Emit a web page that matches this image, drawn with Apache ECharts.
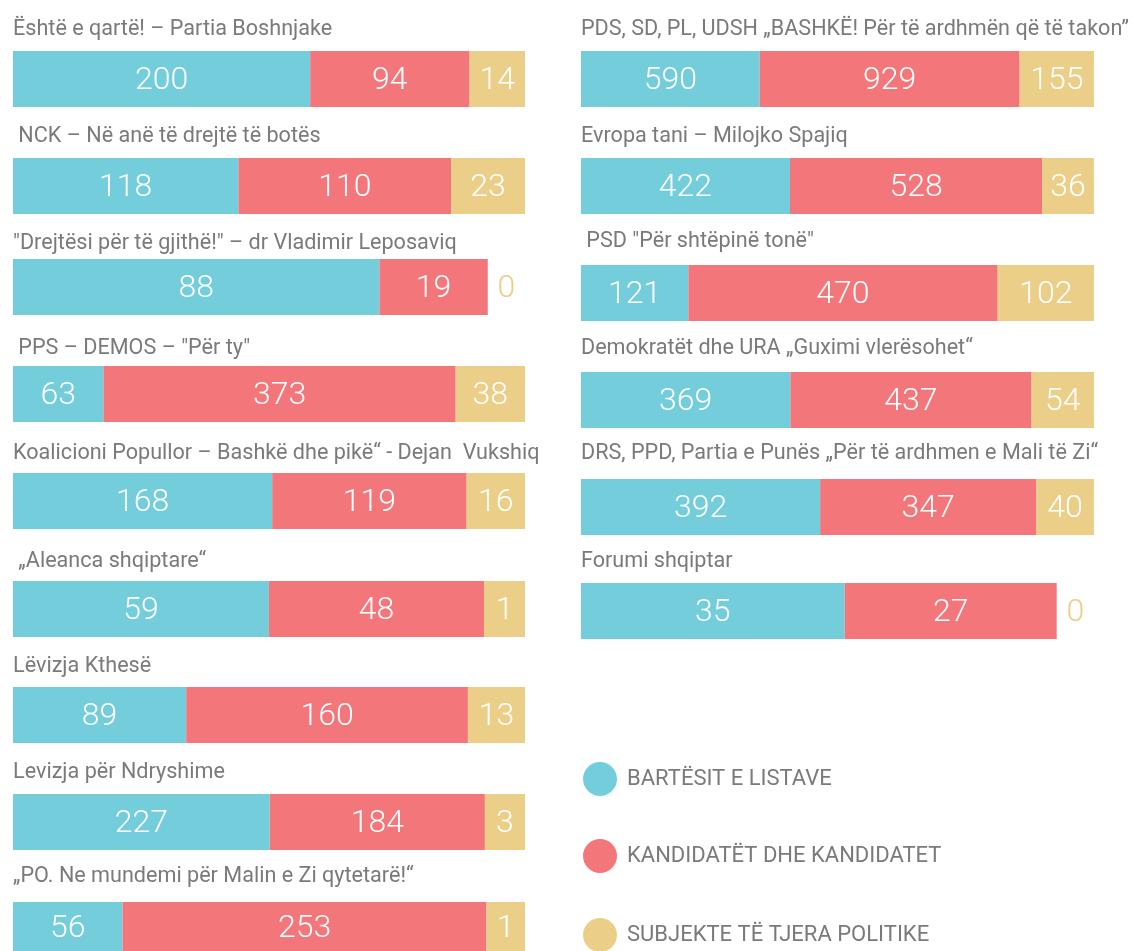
<!DOCTYPE html>
<html>
<head>
<meta charset="utf-8">
<script src="https://cdn.jsdelivr.net/npm/echarts@6/dist/echarts.min.js"></script>
<style>
  html, body { margin: 0; padding: 0; background: #fff; }
  #chart { width: 1134px; height: 951px; }
</style>
</head>
<body>
<div id="chart"></div>
<script>
// left column first (9 rows), then right column (6 rows)
const parties = [
  "Është e qartë! – Partia Boshnjake",
  " NCK – Në anë të drejtë të botës",
  "\"Drejtësi për të gjithë!\" – dr Vladimir Leposaviq",
  " PPS – DEMOS – \"Për ty\"",
  "Koalicioni Popullor – Bashkë dhe pikë“ - Dejan  Vukshiq",
  " „Aleanca shqiptare“",
  "Lëvizja Kthesë",
  "Levizja për Ndryshime",
  "„PO. Ne mundemi për Malin e Zi qytetarë!“",
  "PDS, SD, PL, UDSH „BASHKË! Për të ardhmën që të takon”",
  "Evropa tani – Milojko Spajiq",
  " PSD \"Për shtëpinë tonë\"",
  "Demokratët dhe URA „Guximi vlerësohet“",
  "DRS, PPD, Partia e Punës „Për të ardhmen e Mali të Zi“",
  "Forumi shqiptar"
];
const listHolders   = [200, 118, 88, 63, 168, 59, 89, 227, 56, 590, 422, 121, 369, 392, 35];
const candidates    = [94, 110, 19, 373, 119, 48, 160, 184, 253, 929, 528, 470, 437, 347, 27];
const otherSubjects = [14, 23, 0, 38, 16, 1, 13, 3, 1, 155, 36, 102, 54, 40, 0];
const seriesNames = ["BARTËSIT E LISTAVE", "KANDIDATËT DHE KANDIDATET", "SUBJEKTE TË TJERA POLITIKE"];

const colors = ["#74cddb", "#f3767a", "#ebcf88"];
const PAD = 0.093; // each segment gets a bit of extra room so small numbers still fit
const FONT = "Roboto";

// layout of the small bars: x, width, bar top, title middle
const leftTops = [51, 158, 259, 366, 473, 581, 687, 794, 902];
const leftTitles = [28, 135, 242, 347, 452, 560, 665, 771, 875];
const rightTops = [51, 158, 265, 372, 479, 583];
const rightTitles = [28, 135, 240, 347, 452, 560];
const cells = [];
leftTops.forEach((t, i) => cells.push({ x: 13, w: 512, top: t, title: leftTitles[i] }));
rightTops.forEach((t, i) => cells.push({ x: 581, w: 513, top: t, title: rightTitles[i] }));

const grids = [], xAxes = [], yAxes = [], titles = [], series = [];
parties.forEach((name, i) => {
  const c = cells[i];
  grids.push({ left: c.x, top: c.top, width: c.w, height: 56 });
  xAxes.push({ gridIndex: i, type: "value", min: 0, max: 1 + 3 * PAD, show: false });
  yAxes.push({ gridIndex: i, type: "category", data: [name], show: false });
  titles.push({
    text: name, left: c.x, top: c.title - 9, padding: 0,
    textStyle: { fontFamily: FONT, fontSize: 21.6, fontWeight: "normal", color: "#7a7a7a" }
  });
  const vals = [listHolders[i], candidates[i], otherSubjects[i]];
  const total = vals[0] + vals[1] + vals[2];
  vals.forEach((v, k) => {
    const item = { value: v / total + PAD, raw: v };
    if (v === 0) {
      item.itemStyle = { color: "rgba(0,0,0,0)" };
      item.label = { color: colors[k] };
    }
    series.push({
      name: seriesNames[k],
      type: "bar",
      xAxisIndex: i,
      yAxisIndex: i,
      stack: "row" + i,
      barCategoryGap: 0,
      silent: true,
      itemStyle: { color: colors[k] },
      label: {
        show: true,
        position: "inside",
        offset: [0, 2],
        color: "#fff",
        fontFamily: FONT,
        fontSize: 32,
        fontWeight: 300,
        formatter: p => p.data.raw
      },
      data: [item]
    });
  });
});

// one legend per entry so the column doesn't wrap at the page bottom
const legendTops = [762, 839, 918];
const legends = seriesNames.map((n, k) => ({
  data: [n],
  orient: "vertical",
  left: 583,
  top: legendTops[k],
  padding: 0,
  icon: "circle",
  itemWidth: 34,
  itemHeight: 34,
  selectedMode: false,
  textStyle: { fontFamily: FONT, fontSize: 22, color: "#7a7a7a", padding: [0, 0, 0, 5] }
}));

const chart = echarts.init(document.getElementById("chart"));
chart.setOption({
  animation: false,
  backgroundColor: "#fff",
  title: titles,
  grid: grids,
  xAxis: xAxes,
  yAxis: yAxes,
  legend: legends,
  series: series
});
</script>
</body>
</html>
